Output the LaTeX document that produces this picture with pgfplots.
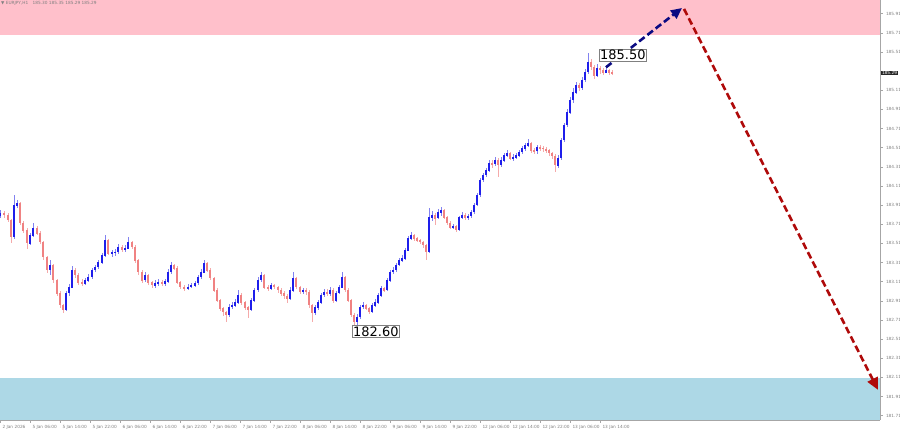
\documentclass[border=0pt]{standalone}
\usepackage{pgfplots}
\pgfplotsset{compat=1.18}
\usepackage{pgfplotstable}
\usepackage{fontspec}
\setmainfont{DejaVu Sans}
\usetikzlibrary{arrows.meta}
\definecolor{zonepink}{RGB}{255,192,203}
\definecolor{zoneblue}{RGB}{173,216,230}
\definecolor{upbody}{RGB}{30,30,235}
\definecolor{upwick}{RGB}{130,130,240}
\definecolor{dnbody}{RGB}{240,130,130}
\definecolor{dnwick}{RGB}{245,170,170}
\definecolor{arrblue}{RGB}{10,10,130}
\definecolor{arrred}{RGB}{175,10,10}
\pgfplotstableread{
x o c h l
0 183.800 183.828 183.860 183.780
4 183.828 183.807 183.850 183.780
8 183.807 183.754 183.830 183.730
11 183.754 183.577 183.770 183.520
14 183.577 183.911 184.016 183.560
17 183.911 183.932 183.960 183.880
20 183.932 183.723 183.945 183.700
23 183.723 183.650 183.740 183.620
27 183.650 183.514 183.670 183.450
30 183.514 183.597 183.620 183.490
33 183.597 183.670 183.720 183.580
37 183.670 183.618 183.690 183.600
40 183.618 183.524 183.640 183.500
43 183.524 183.368 183.540 183.340
47 183.368 183.232 183.380 183.200
50 183.232 183.284 183.340 183.180
53 183.284 183.127 183.300 183.100
57 183.127 182.992 183.140 182.960
60 182.992 182.867 183.010 182.840
63 182.867 182.814 182.880 182.780
66 182.814 182.992 183.010 182.800
69 182.992 183.054 183.090 182.960
72 183.054 183.232 183.270 183.040
75 183.232 183.180 183.250 183.150
78 183.180 183.106 183.200 183.080
82 183.106 183.096 183.140 183.060
85 183.096 183.127 183.150 183.080
88 183.127 183.159 183.190 183.110
92 183.159 183.232 183.250 183.140
95 183.232 183.263 183.290 183.210
98 183.263 183.315 183.340 183.240
102 183.315 183.388 183.410 183.300
105 183.388 183.545 183.598 183.370
108 183.545 183.409 183.560 183.390
112 183.409 183.415 183.440 183.370
115 183.415 183.420 183.450 183.380
118 183.420 183.472 183.500 183.400
122 183.472 183.441 183.490 183.420
125 183.441 183.461 183.490 183.420
128 183.461 183.524 183.580 183.450
132 183.524 183.472 183.540 183.450
135 183.472 183.336 183.490 183.310
138 183.336 183.211 183.350 183.180
142 183.211 183.127 183.230 183.100
145 183.127 183.180 183.210 183.110
148 183.180 183.106 183.190 183.080
152 183.106 183.075 183.120 183.040
155 183.075 183.096 183.130 183.050
158 183.096 183.106 183.140 183.070
162 183.106 183.090 183.130 183.060
165 183.090 183.110 183.140 183.070
168 183.110 183.211 183.240 183.100
171 183.211 183.284 183.315 183.190
174 183.284 183.253 183.300 183.230
177 183.253 183.106 183.270 183.090
180 183.106 183.054 183.120 183.030
184 183.054 183.044 183.080 183.010
188 183.044 183.054 183.090 183.020
191 183.054 183.075 183.100 183.040
195 183.075 183.096 183.120 183.060
198 183.096 183.159 183.180 183.080
201 183.159 183.211 183.240 183.140
204 183.211 183.305 183.336 183.200
207 183.305 183.232 183.320 183.210
210 183.232 183.148 183.250 183.130
214 183.148 183.023 183.160 183.000
217 183.023 182.918 183.040 182.900
220 182.918 182.835 182.930 182.800
223 182.835 182.793 182.850 182.750
226 182.793 182.762 182.810 182.688
229 182.762 182.845 182.880 182.740
232 182.845 182.866 182.900 182.820
235 182.866 182.898 182.930 182.850
238 182.898 182.971 183.023 182.880
241 182.971 182.898 182.990 182.870
245 182.898 182.845 182.910 182.810
248 182.845 182.814 182.860 182.730
251 182.814 182.918 182.940 182.800
254 182.918 183.023 183.050 182.900
258 183.023 183.127 183.160 183.000
261 183.127 183.180 183.211 183.110
264 183.180 183.054 183.190 183.030
268 183.054 183.044 183.080 183.010
271 183.044 183.075 183.100 183.020
274 183.075 183.054 183.090 183.030
278 183.054 183.023 183.070 182.990
281 183.023 182.992 183.040 182.960
284 182.992 182.960 183.010 182.930
287 182.960 182.939 182.980 182.890
290 182.939 183.023 183.050 182.920
293 183.023 183.148 183.211 183.000
296 183.148 183.054 183.160 183.030
300 183.054 183.002 183.070 182.980
303 183.002 183.023 183.050 182.980
306 183.023 183.002 183.040 182.970
309 183.002 182.867 183.020 182.840
312 182.867 182.783 182.880 182.688
315 182.783 182.845 182.870 182.760
318 182.845 182.898 182.920 182.820
321 182.898 182.971 182.990 182.880
324 182.971 183.002 183.030 182.950
327 183.002 182.985 183.030 182.960
330 182.985 183.023 183.050 182.960
333 183.023 182.918 183.040 182.890
336 182.918 182.992 183.010 182.900
339 182.992 183.054 183.080 182.980
342 183.054 183.159 183.211 183.040
345 183.159 183.023 183.170 183.000
348 183.023 182.918 183.040 182.900
351 182.918 182.762 182.930 182.740
354 182.762 182.689 182.780 182.600
357 182.689 182.741 182.770 182.660
360 182.741 182.845 182.870 182.720
363 182.845 182.866 182.900 182.830
366 182.866 182.835 182.880 182.810
369 182.835 182.793 182.850 182.770
372 182.793 182.866 182.890 182.780
375 182.866 182.898 182.930 182.850
378 182.898 182.971 182.990 182.880
381 182.971 183.044 183.070 182.950
384 183.044 183.023 183.060 183.000
387 183.023 183.127 183.150 183.010
390 183.127 183.211 183.230 183.110
393 183.211 183.232 183.260 183.190
396 183.232 183.284 183.310 183.210
399 183.284 183.336 183.360 183.270
402 183.336 183.357 183.390 183.320
405 183.357 183.441 183.460 183.340
408 183.441 183.566 183.590 183.430
411 183.566 183.597 183.630 183.550
414 183.597 183.566 183.610 183.540
417 183.566 183.545 183.580 183.520
420 183.545 183.524 183.560 183.500
423 183.524 183.493 183.540 183.460
426 183.493 183.420 183.500 183.336
429 183.420 183.786 183.880 183.410
432 183.786 183.807 183.850 183.740
435 183.807 183.775 183.830 183.700
438 183.775 183.838 183.870 183.760
441 183.838 183.859 183.890 183.800
444 183.859 183.786 183.870 183.760
447 183.786 183.723 183.800 183.700
450 183.723 183.681 183.740 183.660
453 183.681 183.690 183.710 183.660
456 183.690 183.650 183.700 183.630
459 183.650 183.786 183.800 183.640
462 183.786 183.807 183.840 183.770
465 183.807 183.786 183.830 183.760
468 183.786 183.796 183.820 183.760
471 183.796 183.838 183.860 183.780
474 183.838 183.911 183.930 183.820
477 183.911 184.016 184.040 183.900
480 184.016 184.172 184.190 184.000
483 184.172 184.224 184.250 184.150
486 184.224 184.277 184.300 184.200
489 184.277 184.350 184.380 184.260
492 184.350 184.340 184.380 184.300
495 184.340 184.381 184.410 184.320
498 184.381 184.329 184.400 184.200
501 184.329 184.381 184.410 184.310
504 184.381 184.433 184.460 184.360
507 184.433 184.454 184.490 184.410
510 184.454 184.402 184.470 184.380
513 184.402 184.412 184.440 184.370
516 184.412 184.433 184.460 184.390
519 184.433 184.465 184.490 184.410
522 184.465 184.507 184.530 184.440
525 184.507 184.538 184.560 184.480
528 184.538 184.559 184.600 184.520
531 184.559 184.486 184.570 184.460
534 184.486 184.476 184.510 184.440
537 184.476 184.517 184.540 184.450
540 184.517 184.507 184.540 184.480
543 184.507 184.497 184.530 184.470
546 184.497 184.486 184.520 184.450
549 184.486 184.454 184.500 184.420
552 184.454 184.423 184.470 184.390
555 184.423 184.329 184.440 184.256
558 184.329 184.402 184.430 184.300
561 184.402 184.590 184.610 184.380
564 184.590 184.747 184.770 184.570
567 184.747 184.883 184.910 184.730
570 184.883 185.008 185.040 184.860
573 185.008 185.092 185.130 184.980
576 185.092 185.165 185.200 185.070
579 185.165 185.134 185.190 185.100
582 185.134 185.217 185.250 185.110
585 185.217 185.301 185.330 185.200
588 185.301 185.405 185.500 185.280
591 185.405 185.353 185.440 185.320
594 185.353 185.269 185.380 185.230
597 185.269 185.342 185.380 185.250
600 185.342 185.322 185.360 185.280
603 185.322 185.301 185.340 185.270
606 185.301 185.322 185.350 185.290
609 185.322 185.300 185.330 185.270
612 185.300 185.290 185.320 185.270
}\candles
\begin{document}
\begin{tikzpicture}
\path[use as bounding box] (0,0) rectangle (900bp,-429bp);
\begin{axis}[
  at={(0,0)}, anchor=north west,
  scale only axis, width=880bp, height=420bp,
  xmin=0, xmax=880, ymin=181.665, ymax=186.053,
  clip=false,
  axis x line*=bottom, axis y line*=right,
  axis line style={gray!70, line width=0.6bp},
  tick style={gray!70, line width=0.5bp},
  tick align=outside, major tick length=2.5bp,
  /pgf/number format/assume math mode=true,
  xtick={0,30,...,600},
  xticklabels={2 Jan 2026,5 Jan 06:00,5 Jan 14:00,5 Jan 22:00,6 Jan 06:00,6 Jan 14:00,6 Jan 22:00,7 Jan 06:00,7 Jan 14:00,7 Jan 22:00,8 Jan 06:00,8 Jan 14:00,8 Jan 22:00,9 Jan 06:00,9 Jan 14:00,9 Jan 22:00,12 Jan 06:00,12 Jan 14:00,12 Jan 22:00,13 Jan 06:00,13 Jan 14:00},
  xticklabel style={font=\fontsize{4.3}{5}\selectfont, text=gray, anchor=north west, xshift=-1bp, yshift=1bp},
  ytick={181.71,181.91,182.11,182.31,182.51,182.71,182.91,183.11,183.31,183.51,183.71,183.91,184.11,184.31,184.51,184.71,184.91,185.11,185.51,185.71,185.91},
  yticklabel style={font=\fontsize{4.3}{5}\selectfont, text=gray, /pgf/number format/.cd, fixed, fixed zerofill, precision=2},
  candle/.style={draw=none, mark=none, forget plot},
]
% zones
\addplot[draw=none, fill=zonepink] coordinates {(0,185.69) (880,185.69) (880,186.053) (0,186.053)} -- cycle;
\addplot[draw=none, fill=zoneblue] coordinates {(0,181.665) (880,181.665) (880,182.10) (0,182.10)} -- cycle;
% wicks
\addplot[candle, restrict expr to domain={\thisrow{c}-\thisrow{o}}{0:100},
  error bars/.cd, y dir=both, y explicit, error mark=none, error bar style={draw=upwick, line width=0.8bp}]
  table[x=x, y expr={(\thisrow{h}+\thisrow{l})/2}, y error expr={(\thisrow{h}-\thisrow{l})/2}] {\candles};
\addplot[candle, restrict expr to domain={\thisrow{c}-\thisrow{o}}{-100:0},
  error bars/.cd, y dir=both, y explicit, error mark=none, error bar style={draw=dnwick, line width=0.8bp}]
  table[x=x, y expr={(\thisrow{h}+\thisrow{l})/2}, y error expr={(\thisrow{h}-\thisrow{l})/2}] {\candles};
% bodies
\addplot[candle, restrict expr to domain={\thisrow{c}-\thisrow{o}}{0:100},
  error bars/.cd, y dir=both, y explicit, error mark=none, error bar style={draw=upbody, line width=1.8bp}]
  table[x=x, y expr={(\thisrow{o}+\thisrow{c})/2}, y error expr={abs(\thisrow{c}-\thisrow{o})/2+0.004}] {\candles};
\addplot[candle, restrict expr to domain={\thisrow{c}-\thisrow{o}}{-100:0},
  error bars/.cd, y dir=both, y explicit, error mark=none, error bar style={draw=dnbody, line width=1.8bp}]
  table[x=x, y expr={(\thisrow{o}+\thisrow{c})/2}, y error expr={abs(\thisrow{c}-\thisrow{o})/2+0.004}] {\candles};
% forecast arrows
\addplot[arrblue, line width=2.6bp, dash pattern=on 7bp off 3.5bp, -{Triangle[length=11bp,width=10bp]}]
  coordinates {(606,185.35) (682,185.97)};
\addplot[arrred, line width=2.6bp, dash pattern=on 7bp off 3.5bp, -{Triangle[length=12bp,width=11bp]}]
  coordinates {(684,185.96) (878,181.98)};
% labels
\node[draw=gray, fill=white, inner sep=1bp, font=\fontsize{13}{13}\selectfont, anchor=west] at (axis cs:599,185.48) {185.50};
\node[draw=gray, fill=white, inner sep=1bp, font=\fontsize{13}{13}\selectfont, anchor=west] at (axis cs:352,182.59) {182.60};
\node[fill=black!85, text=white, inner sep=0.8bp, font=\fontsize{4.3}{5}\selectfont, anchor=west] at (axis cs:881,185.29) {185.29};
\node[anchor=north west, font=\fontsize{4.3}{5}\selectfont, text=gray, inner sep=1bp] at (rel axis cs:0,1) {▼ EURJPY,H1\quad 185.30 185.35 185.29 185.29};
\end{axis}
\end{tikzpicture}
\end{document}
